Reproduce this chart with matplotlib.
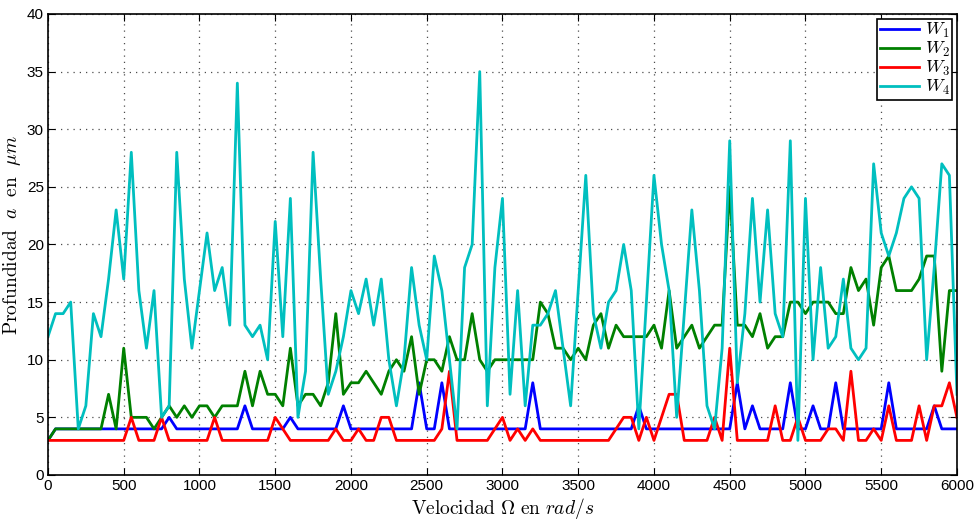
import matplotlib
matplotlib.use("Agg")
import matplotlib.pyplot as plt
import numpy as np

plt.rcParams['mathtext.fontset'] = 'cm'
plt.rcParams['font.family'] = ['Liberation Sans Narrow', 'Liberation Sans', 'DejaVu Sans']

# velocidad en rad/s, paso de 50
velocidad = np.arange(0, 6001, 50)

w1 = [3, 4, 4, 4, 4, 4, 4, 4, 4, 4,
      4, 4, 4, 4, 4, 4, 5, 4, 4, 4,
      4, 4, 4, 4, 4, 4, 6, 4, 4, 4,
      4, 4, 5, 4, 4, 4, 4, 4, 4, 6,
      4, 4, 4, 4, 4, 4, 4, 4, 4, 8,
      4, 4, 8, 4, 4, 4, 4, 4, 4, 4,
      4, 4, 4, 4, 8, 4, 4, 4, 4, 4,
      4, 4, 4, 4, 4, 4, 4, 4, 6, 4,
      4, 4, 4, 4, 4, 4, 4, 4, 4, 4,
      4, 8, 4, 6, 4, 4, 4, 4, 8, 4,
      4, 6, 4, 4, 8, 4, 4, 4, 4, 4,
      4, 8, 4, 4, 4, 4, 4, 6, 4, 4,
      4]

w2 = [3, 4, 4, 4, 4, 4, 4, 4, 7, 4,
      11, 5, 5, 5, 4, 5, 6, 5, 6, 5,
      6, 6, 5, 6, 6, 6, 9, 6, 9, 7,
      7, 6, 11, 6, 7, 7, 6, 8, 14, 7,
      8, 8, 9, 8, 7, 9, 10, 9, 12, 7,
      10, 10, 9, 12, 10, 10, 14, 10, 9, 10,
      10, 10, 10, 10, 10, 15, 14, 11, 11, 10,
      11, 10, 13, 14, 11, 13, 12, 12, 12, 12,
      13, 11, 16, 11, 12, 13, 11, 12, 13, 13,
      25, 13, 13, 12, 14, 11, 12, 12, 15, 15,
      14, 15, 15, 15, 14, 14, 18, 16, 17, 13,
      18, 19, 16, 16, 16, 17, 19, 19, 9, 16,
      16]

w3 = [3, 3, 3, 3, 3, 3, 3, 3, 3, 3,
      3, 5, 3, 3, 3, 5, 3, 3, 3, 3,
      3, 3, 5, 3, 3, 3, 3, 3, 3, 3,
      5, 4, 3, 3, 3, 3, 3, 3, 4, 3,
      3, 4, 3, 3, 5, 5, 3, 3, 3, 3,
      3, 3, 4, 9, 3, 3, 3, 3, 3, 4,
      5, 3, 4, 3, 4, 3, 3, 3, 3, 3,
      3, 3, 3, 3, 3, 4, 5, 5, 3, 5,
      3, 5, 7, 7, 3, 3, 3, 3, 5, 3,
      11, 3, 3, 3, 3, 3, 6, 3, 3, 5,
      3, 3, 3, 4, 4, 3, 9, 3, 3, 4,
      3, 6, 3, 3, 3, 6, 3, 6, 6, 8,
      5]

w4 = [12, 14, 14, 15, 4, 6, 14, 12, 17, 23,
      17, 28, 16, 11, 16, 5, 6, 28, 17, 11,
      16, 21, 16, 18, 13, 34, 13, 12, 13, 10,
      22, 12, 24, 5, 9, 28, 17, 7, 9, 12,
      16, 14, 17, 13, 17, 10, 6, 10, 18, 13,
      10, 19, 16, 10, 4, 18, 20, 35, 6, 18,
      24, 7, 16, 6, 13, 13, 14, 16, 11, 6,
      16, 26, 14, 11, 15, 16, 20, 16, 4, 15,
      26, 20, 16, 5, 14, 23, 16, 6, 4, 11,
      29, 8, 14, 24, 15, 23, 14, 12, 29, 3,
      24, 10, 18, 11, 12, 17, 11, 10, 11, 27,
      21, 19, 21, 24, 25, 24, 10, 18, 27, 26,
      7]

fig = plt.figure(figsize=(9.75, 5.26), dpi=100)
ax = fig.add_axes([0.0492, 0.097, 0.9323, 0.8764])

ax.plot(velocidad, w1, color=(0, 0, 1), lw=2, label=r'$W_1$')
ax.plot(velocidad, w2, color=(0, 0.5, 0), lw=2, label=r'$W_2$')
ax.plot(velocidad, w3, color=(1, 0, 0), lw=2, label=r'$W_3$')
ax.plot(velocidad, w4, color=(0, 0.75, 0.75), lw=2, label=r'$W_4$')

ax.set_xlim(0, 6000)
ax.set_ylim(0, 40)
ax.set_xticks(np.arange(0, 6001, 500))
ax.set_yticks(np.arange(0, 41, 5))
ax.tick_params(direction='in', top=True, right=True, length=5, labelsize=11, pad=3)
ax.grid(True, linestyle=(0, (1, 4)), color='0.3', lw=0.9)
for s in ax.spines.values():
    s.set_linewidth(1.2)

ax.set_xlabel(r'$\mathrm{Velocidad}\ \Omega\ \mathrm{en}\ rad/s$', fontsize=14, labelpad=2)
ax.set_ylabel(r'$\mathrm{Profundidad}\ \ a\ \ \mathrm{en}\ \ \mu m$', fontsize=14)
ax.yaxis.set_label_coords(-0.028, 0.52)

leg = ax.legend(loc='upper right', fontsize=13, fancybox=False, framealpha=1,
                edgecolor='black', borderpad=0.15, labelspacing=0.0,
                handlelength=2.2, handletextpad=0.3, borderaxespad=0.25)
leg.get_frame().set_linewidth(1.2)

fig.savefig('out.png', dpi=100)
